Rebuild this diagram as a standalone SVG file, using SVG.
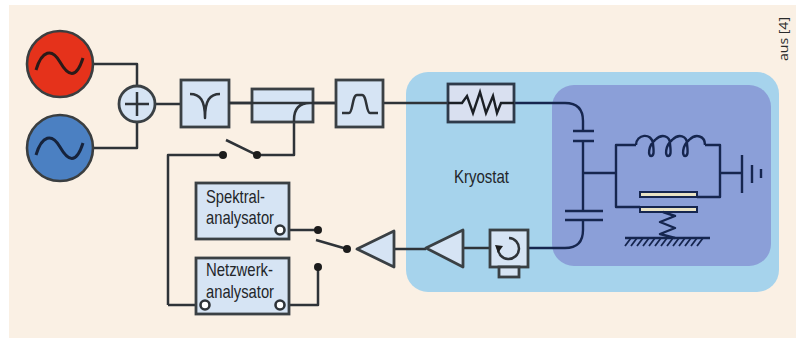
<svg xmlns="http://www.w3.org/2000/svg" width="801" height="338" viewBox="0 0 801 338">
<style>
.w{fill:none;stroke:#2e3338;stroke-width:2.5;stroke-linejoin:round}
.d{fill:none;stroke:#16264f;stroke-width:2.4;stroke-linejoin:round}
.h{fill:none;stroke:#16264f;stroke-width:1.8}
.b{fill:#d6e4f4;stroke:#3a4044;stroke-width:2.8}
.n{fill:#1c1c1c}
.p{fill:#fff;stroke:#2e3338;stroke-width:2.6}
.t{font-family:"Liberation Sans",Arial,sans-serif;font-size:18.500px;fill:#23262a}
</style>
<rect width="801" height="338" fill="#fff"/>
<rect x="9" y="5" width="787" height="333" fill="#faf0e4"/>
<g id="kryostat"><rect x="406" y="72" width="373" height="220" rx="22" fill="#a6d3ec"/>
<text class="t" x="454" y="183" textLength="55" lengthAdjust="spacingAndGlyphs">Kryostat</text></g>
<g id="probe"><rect x="552" y="85" width="219" height="181" rx="22" fill="#8b9fd8"/></g>
<g id="connectors">
<path class="w" d="M93 64H137V86M93 148H137V122M155 104H181M229 103H336M383 103H448M168 305V155H223M257 155H294V120Q294 103 310 103M226 140L257 155M284 230H318M284 305H318V267M316 240L347 249M168 305H201M394 249H426M463 248H490"/>
<path class="d" d="M514 103H565Q583 103 583 121V131M583 141V211M583 220V230Q583 248 565 248H528M573 131H594M573 141H594M565 211H603M565 220H603M583 173H616M640 207H616V145H636M705 145H720V197H697M720 173H742M742 155V193M752 165V183M761 169V178M625 238H710"/>
<path class="h" d="M625 246L631 238M631 246L637 238M637 246L643 238M643 246L649 238M649 246L655 238M655 246L661 238M661 246L667 238M667 246L673 238M673 246L679 238M679 246L685 238M685 246L691 238M691 246L697 238M697 246L703 238"/>
</g>
<g id="source-red"><circle cx="60" cy="64" r="33" fill="#e5321b" stroke="#3a3e40" stroke-width="2.600"/><path d="M36 70C42 50 52 48 60 62S76 80 83 58" fill="none" stroke="#2b1a18" stroke-width="3"/></g>
<g id="source-blue"><circle cx="60" cy="148" r="33" fill="#4b80c2" stroke="#3a3e40" stroke-width="2.600"/><path d="M36 155C42 135 52 133 60 147S76 165 83 143" fill="none" stroke="#16233c" stroke-width="3"/></g>
<g id="summer"><circle cx="137" cy="104" r="18" fill="#d6e4f4" stroke="#3a4044" stroke-width="2.800"/><path class="w" d="M125 104H149M137 92V116"/></g>
<g id="notch"><rect class="b" x="181" y="80" width="48" height="47"/><path class="w" d="M190 94C200 94 205 100 205 118C205 100 210 94 220 94"/></g>
<g id="coupler"><rect class="b" x="252" y="89" width="61" height="33"/><path class="w" d="M229 103H336M294 122V120Q294 103 310 103"/></g>
<g id="bandpass"><rect class="b" x="336" y="80" width="47" height="47"/><path class="w" d="M342 113H349C353 113 352 95 357 95H362C367 95 366 113 370 113H378"/></g>
<g id="switch1"><circle class="n" cx="223" cy="155" r="4"/><circle class="n" cx="257" cy="155" r="4"/></g>
<g id="spektralanalysator"><rect class="b" x="196" y="183" width="93" height="56"/>
<text class="t" x="206" y="203" textLength="59" lengthAdjust="spacingAndGlyphs">Spektral-</text>
<text class="t" x="206" y="224" textLength="68" lengthAdjust="spacingAndGlyphs">analysator</text>
<circle class="p" cx="280" cy="230" r="4.500"/></g>
<g id="netzwerkanalysator"><rect class="b" x="196" y="258" width="93" height="56"/>
<text class="t" x="206" y="276" textLength="67" lengthAdjust="spacingAndGlyphs">Netzwerk-</text>
<text class="t" x="206" y="298" textLength="68" lengthAdjust="spacingAndGlyphs">analysator</text>
<circle class="p" cx="205" cy="305" r="4.500"/><circle class="p" cx="280" cy="305" r="4.500"/></g>
<g id="switch2"><circle class="n" cx="318" cy="230" r="4"/><circle class="n" cx="318" cy="267" r="4"/><circle class="n" cx="347" cy="249" r="4"/></g>
<g id="amp1"><path class="b" d="M357 249L394 231V267Z" stroke-linejoin="round"/></g>
<g id="amp2"><path class="b" d="M426 248L463 230V267Z" stroke-linejoin="round"/></g>
<g id="circulator"><rect class="b" x="490" y="230" width="38" height="37"/><rect class="b" x="499" y="267" width="20" height="10" stroke-width="2"/>
<path class="w" d="M498 248A10.500 10.500 0 1 0 509 238"/><path class="n" d="M498 253L495 245L503 246Z"/></g>
<g id="resistor"><rect x="448" y="84" width="66" height="38" fill="#d9e0f0" stroke="#2e3a4a" stroke-width="2.800"/><path d="M448 103H462L467 96L473 113L480 92L486 113L493 96L497 113L501 103H514" fill="none" stroke="#1b1f25" stroke-width="2.400"/></g>
<g id="inductor"><path class="d" d="M636 145C636 134 652 132 653 144C654 152 654 156 651 156C648 156 648 146 655 140C662 133 670 136 670 144C671 152 671 156 668 156C665 156 665 146 672 140C679 133 687 136 687 144C688 152 688 156 685 156C682 156 682 146 689 140C696 133 705 136 705 145"/></g>
<g id="plates"><rect x="640" y="192" width="57" height="5" fill="#e9e3c4" stroke="#16264f" stroke-width="2"/><rect x="640" y="207" width="57" height="5" fill="#e9e3c4" stroke="#16264f" stroke-width="2"/>
<path class="d" d="M663 212L675 216L660 222L675 228L660 234L675 238"/></g>
<text x="0" y="0" transform="translate(788 61) rotate(-90)" font-family="'Open Sans',sans-serif" font-size="12.500" fill="#2a2a2a" textLength="44" lengthAdjust="spacingAndGlyphs">aus [4]</text>
</svg>
